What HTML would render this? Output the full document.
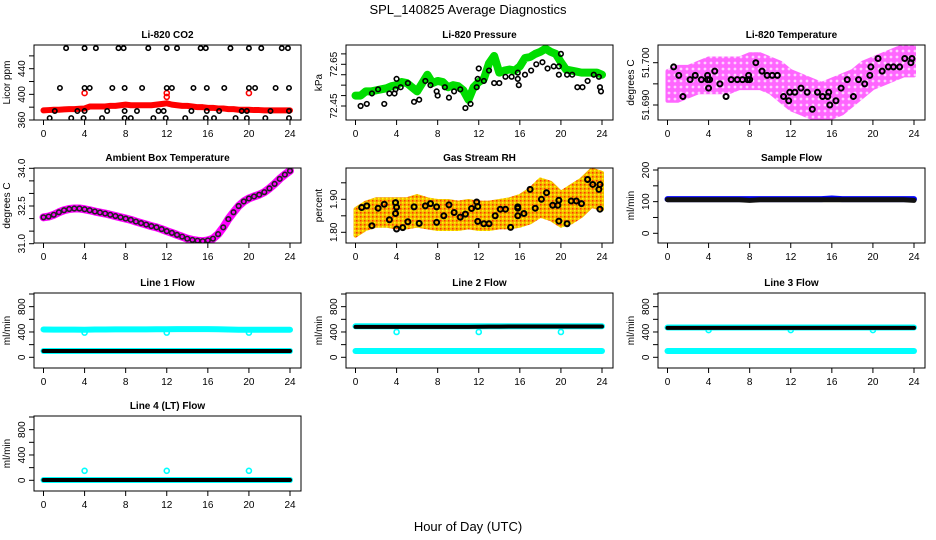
<!DOCTYPE html>
<html><head><meta charset="utf-8">
<style>
html,body{margin:0;padding:0;background:#fff;}
svg{display:block;font-family:"Liberation Sans",Arial,sans-serif;}
</style></head>
<body>
<svg id="c" width="936" height="540" viewBox="0 0 936 540" xmlns="http://www.w3.org/2000/svg">
<defs>
<pattern id="magPat" width="6" height="6" patternUnits="userSpaceOnUse">
<rect width="6" height="6" fill="#ff66ff"/>
<circle cx="3" cy="3" r="1.4" fill="#ffd0ff"/>
</pattern>
<pattern id="orgPat" width="4" height="4" patternUnits="userSpaceOnUse">
<rect width="4" height="4" fill="#f5b400"/>
<rect x="0" y="0" width="1.5" height="1.5" fill="#ff3300"/>
<rect x="2" y="2" width="1.5" height="1.5" fill="#ffff00"/>
</pattern>
</defs>
<text x="468" y="14" text-anchor="middle" font-size="13">SPL_140825  Average Diagnostics</text>
<text x="468" y="531" text-anchor="middle" font-size="13">Hour of Day (UTC)</text>
</svg>
<script>
// ---- data ----
var xTicks = [0,4,8,12,16,20,24];
var co2Red = [375,375.5,376,376,376.5,377,377,377.5,378,381,381,381,381,382,382,383,384,383,383,383,383,383,384,385,386,384,383,382,382,381,380,380,379,379,378,378,377,377,376,376,376,375.5,375.5,375,375,375,375,375,375];
var co2RedOutT = [4,12,12,20];
var co2RedOutV = [402,402,396,402];
var co2BlackT = [2.2,4,5.1,7.3,7.8,10.2,12,13,15.3,15.8,18.2,20,21.2,23.2,23.8, 1.6,4,4.5,6.7,7.9,9.6,12,12.5,14.6,15.9,17.6,20,20.6,22.6,23.9, 0.6,2.7,3.9,5.7,7.9,8.5,10.7,11.9,13.8,15.8,16.6,18.7,19.8,21.6,23.9, 1.1,3.3,4,6.2,7.9,9.1,11.2,11.7,14.4,15.9,17.1,19.3,19.8,22.1,23.9];
var co2BlackV = [472,472,472,472,472,472,472,472,472,472,472,472,472,472,472, 410,410,410,410,410,410,410,410,410,410,410,410,410,410,410, 363,363,363,363,363,363,363,363,363,363,363,363,363,363,363, 374,374,374,374,374,374,374,374,374,374,374,374,374,374,374];
var presGreen = [72.50,72.50,72.52,72.52,72.525,72.53,72.535,72.545,72.55,72.565,72.56,72.54,72.52,72.56,72.60,72.56,72.57,72.565,72.54,72.55,72.545,72.525,72.48,72.54,72.565,72.58,72.655,72.69,72.61,72.62,72.625,72.62,72.64,72.68,72.685,72.70,72.71,72.725,72.71,72.70,72.66,72.625,72.62,72.615,72.61,72.61,72.61,72.61,72.60];
var presBlackT = [0.5,1.1,1.6,2.2,2.8,3.3,3.8,3.9,4,4.4,5.1,5.7,6.2,6.8,7.3,7.9,8,8.7,9.1,9.6,10.2,10.7,11.2,11.8,11.9,12,12.5,13,13.5,14,14.6,15.2,15.8,15.9,15.8,16.5,17.1,17.6,18.2,18.7,19.3,19.8,19.8,20,20.6,21.1,21.6,22.1,22.6,23.2,23.7,23.8,23.9];
var presBlackV = [72.45,72.46,72.51,72.53,72.46,72.51,72.51,72.53,72.58,72.54,72.56,72.47,72.48,72.57,72.55,72.52,72.50,72.54,72.49,72.52,72.53,72.44,72.46,72.54,72.58,72.63,72.57,72.62,72.56,72.56,72.59,72.59,72.58,72.55,72.61,72.60,72.62,72.65,72.66,72.63,72.64,72.60,72.64,72.70,72.60,72.60,72.54,72.54,72.57,72.60,72.59,72.54,72.52];
var tempUpper = [51.698,51.699,51.699,51.700,51.701,51.701,51.701,51.701,51.702,51.702,51.701,51.700,51.698,51.697,51.696,51.695,51.696,51.697,51.698,51.700,51.701,51.702,51.703,51.704,51.704];
var tempLower = [51.691,51.691,51.692,51.693,51.693,51.693,51.693,51.694,51.694,51.694,51.693,51.691,51.689,51.688,51.687,51.686,51.687,51.688,51.690,51.692,51.694,51.695,51.696,51.697,51.697];
var tempBlackT = [0.6,1.1,1.5,2.2,2.7,3.3,3.9,3.9,4.0,4.1,4.6,5.1,5.7,6.2,6.8,7.3,7.8,7.9,8.0,8.6,9.2,9.7,10.2,10.7,11.3,11.8,11.9,12.4,13,13.6,14.1,14.6,15.1,15.6,15.7,15.8,16.4,16.9,17.5,18.1,18.6,19.2,19.7,19.8,20.5,20.9,21.5,22,22.6,23.1,23.7,23.8];
var tempBlackV = [51.699,51.697,51.692,51.696,51.697,51.696,51.696,51.697,51.694,51.696,51.698,51.695,51.692,51.696,51.696,51.696,51.696,51.697,51.696,51.700,51.698,51.697,51.697,51.697,51.692,51.691,51.693,51.693,51.694,51.693,51.689,51.693,51.692,51.692,51.693,51.690,51.691,51.694,51.696,51.692,51.696,51.695,51.697,51.699,51.701,51.698,51.699,51.699,51.699,51.701,51.700,51.701];
var ambient = [32.05,32.08,32.15,32.25,32.33,32.38,32.4,32.4,32.37,32.33,32.28,32.24,32.2,32.15,32.1,32.05,32.0,31.95,31.88,31.82,31.76,31.7,31.65,31.58,31.5,31.43,31.35,31.28,31.2,31.15,31.12,31.1,31.13,31.2,31.38,31.65,31.98,32.25,32.5,32.68,32.8,32.88,32.95,33.05,33.2,33.38,33.58,33.75,33.9];
var rhUpper = [1.87,1.89,1.90,1.90,1.90,1.90,1.91,1.90,1.895,1.895,1.89,1.895,1.89,1.89,1.895,1.90,1.91,1.93,1.96,1.95,1.92,1.94,1.96,1.99,1.98];
var rhLower = [1.79,1.81,1.82,1.82,1.815,1.815,1.82,1.815,1.81,1.81,1.81,1.815,1.81,1.81,1.815,1.815,1.82,1.83,1.85,1.84,1.82,1.83,1.85,1.88,1.87];
var rhBlackT = [0.6,1.1,1.6,2.2,2.8,3.3,3.9,3.9,4.0,4.0,4.6,5.1,5.7,6.2,6.8,7.3,7.9,7.9,8.6,9.1,9.6,10.2,10.7,11.3,11.8,11.9,11.9,12.5,13,13.6,14.1,14.6,15.1,15.8,15.8,15.8,16.4,17.0,17.5,18.1,18.6,19.2,19.7,19.8,19.8,20.6,21,21.5,22,22.6,23.1,23.7,23.8,23.8];
var rhBlackV = [1.875,1.88,1.82,1.873,1.885,1.838,1.89,1.857,1.81,1.876,1.814,1.832,1.877,1.827,1.88,1.887,1.877,1.83,1.85,1.883,1.86,1.846,1.855,1.872,1.892,1.878,1.833,1.826,1.826,1.85,1.87,1.87,1.815,1.877,1.873,1.85,1.857,1.93,1.873,1.9,1.92,1.882,1.882,1.897,1.834,1.826,1.895,1.895,1.887,1.96,1.945,1.93,1.945,1.87];
var sampleBlue = [108,108,108,108,108,108,108,108,108,108,108,108,108,108,108,108,110,108,108,108,108,108,108,108,108];
var sampleBlack = [106,106,106,106,106,106,106,106,104,106,106,106,106,106,106,106,106,106,106,106,106,106,106,106,104];
var l1CyanHi = [440,438,438,438,436,440,440,442,442,442,442,444,444,446,446,446,446,444,440,436,436,436,436,436,436];
var l1CyanLo = [100,100,100,100,100,100,100,100,100,100,100,100,100,100,100,100,100,100,100,100,100,100,100,100,100];
var l1Black = [100,100,100,100,100,100,100,100,100,100,100,100,100,100,100,100,100,100,100,100,100,100,100,100,100];
var l2CyanHi = [490,490,490,490,490,490,490,490,490,490,490,490,490,490,490,490,490,490,490,490,490,490,490,490,490];
var l2CyanLo = [100,100,100,100,100,100,100,100,100,100,100,100,100,100,100,100,100,100,100,100,100,100,100,100,100];
var l2Black = [480,480,480,480,480,480,480,480,480,480,480,480,482,484,484,486,486,486,486,486,486,486,486,486,486];
var l3CyanHi = [470,470,470,470,470,470,470,470,470,470,470,470,470,470,470,470,470,470,470,470,470,470,470,470,470];
var l3CyanLo = [100,100,100,100,100,100,100,100,100,100,100,100,100,100,100,100,100,100,100,100,100,100,100,100,100];
var l3Black = [465,465,465,465,465,465,465,465,465,465,465,465,465,465,465,465,465,465,465,465,465,465,465,465,465];
var l4Cyan = [5,5,5,5,5,5,5,5,5,5,5,5,5,5,5,5,5,5,5,5,5,5,5,5,5];
var l4Black = [5,5,5,5,5,5,5,5,5,5,5,5,5,5,5,5,5,5,5,5,5,5,5,5,5];
var cyanDipT = [4,12,20];
var l1DipV = [390,390,390];
var l2DipV = [400,400,400];
var l3DipV = [430,430,430];
var l4DipV = [150,150,150];

// ---- drawing ----
var svg = document.getElementById('c');
var NS = 'http://www.w3.org/2000/svg';
function el(tag, attrs, parent){ var e=document.createElementNS(NS,tag); for(var k in attrs) e.setAttribute(k,attrs[k]); (parent||svg).appendChild(e); return e; }
var colL = [34,346,658], rowT = [45,168,293,416], W = 267, H = 75;

function makePanel(col,row,title,ylab,yv1,yp1,yv2,yp2,yticks,ylabels,name){
  var x0=colL[col], y0=rowT[row];
  var g = el('g',{});
  
  
  var p = {g:g,
    X:function(t){return x0+9.5+t/24*246.5;},
    Y:function(v){return yp1+(v-yv1)*(yp2-yp1)/(yv2-yv1);}};
  var cp = el('clipPath',{id:'clip-'+name},g); el('rect',{x:x0,y:y0,width:W,height:H},cp);
  p.plot = el('g',{'clip-path':'url(#clip-'+name+')'},g);
  var box = el('rect',{x:x0,y:y0,width:W,height:H,fill:'none',stroke:'#000','stroke-width':1},g);
  
  
  var tt = el('text',{x:x0+W/2,y:y0-7,'text-anchor':'middle','font-size':10,'font-weight':'bold'},g);
  tt.textContent = title;
  
  
  xTicks.forEach(function(t){
    var xx=p.X(t);
    el('line',{x1:xx,y1:y0+H,x2:xx,y2:y0+H+5,stroke:'#000'},g);
    var lb = el('text',{x:xx,y:y0+H+17,'text-anchor':'middle','font-size':10},g);
    lb.textContent = t;
    
    
  });
  yticks.forEach(function(v){ var yy=p.Y(v); el('line',{x1:x0-5,y1:yy,x2:x0,y2:yy,stroke:'#000'},g); });
  ylabels.forEach(function(v){
    var yy=p.Y(+v);
    var lb = el('text',{x:x0-9,y:yy,'text-anchor':'middle','font-size':10,transform:'rotate(-90 '+(x0-9)+' '+yy+')'},g);
    lb.textContent = v;
    
    
  });
  var yl = el('text',{x:x0-24,y:y0+H/2,'text-anchor':'middle','font-size':10,transform:'rotate(-90 '+(x0-24)+' '+(y0+H/2)+')'},g);
  yl.textContent = ylab;
  
  
  return p;
}
function tAt(arr,i){ return i*24/(arr.length-1); }
function line(p,arr,color,w,nm){
  var pts = arr.map(function(v,i){return p.X(tAt(arr,i))+','+p.Y(v);}).join(' ');
  var l = el('polyline',{points:pts,fill:'none',stroke:color,'stroke-width':w,'stroke-linejoin':'round','stroke-linecap':'round'},p.plot);
  
  
}
function band(p,up,lo,color,nm){
  var a=[],i;
  for(i=0;i<up.length;i++) a.push(p.X(tAt(up,i))+','+p.Y(up[i]));
  for(i=lo.length-1;i>=0;i--) a.push(p.X(tAt(lo,i))+','+p.Y(lo[i]));
  var b = el('polygon',{points:a.join(' '),fill:color,stroke:color,'stroke-width':4,'stroke-linejoin':'round'},p.plot);
  
  
}
function pts(p,T,V,color,r,nm,sw){
  T.forEach(function(t,i){
    var c = el('circle',{cx:p.X(t),cy:p.Y(V[i]),r:r,fill:'none',stroke:color,'stroke-width':sw||1.6},p.plot);
    
    
  });
}
function arrPts(p,arr,color,r,nm){
  arr.forEach(function(v,i){
    var c = el('circle',{cx:p.X(tAt(arr,i)),cy:p.Y(v),r:r,fill:'none',stroke:color,'stroke-width':1.6},p.plot);
    
    
  });
}

// CO2
var p = makePanel(0,0,'Li-820 CO2','Licor ppm',360,120,440,68.7,[360,380,400,420,440,460],['360','400','440'],'co2');
line(p,co2Red,'#ff0000',6,'co2-red-series');
pts(p,co2RedOutT,co2RedOutV,'#ff0000',2.5,'co2-red-outlier');
pts(p,co2BlackT,co2BlackV,'#000',2.2,'co2-black-point');
// Pressure
p = makePanel(1,0,'Li-820 Pressure','kPa',72.45,106,72.65,64.3,[72.45,72.5,72.55,72.6,72.65,72.7],['72.45','72.65'],'pressure');
line(p,presGreen,'#00dd00',8,'pressure-green-series');
pts(p,presBlackT,presBlackV,'#000',2.3,'pressure-black-point');
// Temperature
p = makePanel(2,0,'Li-820 Temperature','degrees C',51.69,105,51.70,62.7,[51.69,51.695,51.70],['51.690','51.700'],'li820-temp');
band(p,tempUpper,tempLower,'url(#magPat)','temp-magenta-cloud');
pts(p,tempBlackT,tempBlackV,'#000',2.5,'temp-black-point',2);
// Ambient
p = makePanel(0,1,'Ambient Box Temperature','degrees C',31,243.7,34,168.3,[31,31.5,32,32.5,33,33.5,34],['31.0','32.5','34.0'],'ambient');
line(p,ambient,'#ff00ff',8,'ambient-magenta-series');
arrPts(p,ambient,'#222',2.3,'ambient-black-point');
// RH
p = makePanel(1,1,'Gas Stream RH','percent',1.8,232.3,1.9,199.3,[1.8,1.85,1.9,1.95],['1.80','1.90'],'rh');
band(p,rhUpper,rhLower,'url(#orgPat)','rh-orange-cloud');
pts(p,rhBlackT,rhBlackV,'#000',2.5,'rh-black-point',2);
// Sample flow
p = makePanel(2,1,'Sample Flow','ml/min',0,233.3,200,170,[0,50,100,150,200],['0','100','200'],'sample-flow');
line(p,sampleBlue,'#0000ff',6,'sample-blue-series');
line(p,sampleBlack,'#111',5,'sample-black-series');
// Line flows
var fticks=[0,200,400,600,800,1000], flabs=['0','400','800'];
function flowPanel(col,row,title,name,hi,lo,blk,dipV,zero){
  var q = makePanel(col,row,title,'ml/min',0,zero,1000,zero-63.3,fticks,flabs,name);
  if(hi) line(q,hi,'#00ffff',6,name+'-cyan-high');
  line(q,lo,'#00ffff',6,name+'-cyan-low');
  pts(q,cyanDipT,dipV,'#00ffff',2.5,name+'-cyan-dip');
  line(q,blk,'#000',4,name+'-black-series');
  return q;
}
flowPanel(0,2,'Line 1 Flow','line1-flow',l1CyanHi,l1CyanLo,l1Black,l1DipV,357.3);
flowPanel(1,2,'Line 2 Flow','line2-flow',l2CyanHi,l2CyanLo,l2Black,l2DipV,357.3);
flowPanel(2,2,'Line 3 Flow','line3-flow',l3CyanHi,l3CyanLo,l3Black,l3DipV,357.3);
flowPanel(0,3,'Line 4 (LT) Flow','line4-flow',null,l4Cyan,l4Black,l4DipV,480.3);
</script>
</body></html>
